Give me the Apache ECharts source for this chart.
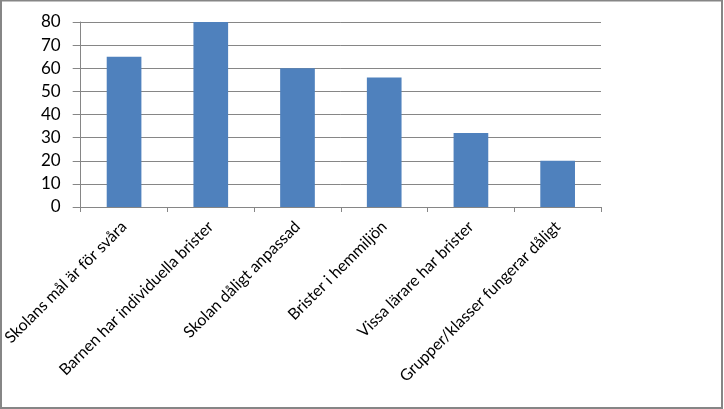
<!DOCTYPE html>
<html>
<head>
<meta charset="utf-8">
<script src="https://cdn.jsdelivr.net/npm/echarts@6/dist/echarts.min.js"></script>
<style>
html,body{margin:0;padding:0;background:#fff;}
#c{width:724px;height:409px;}
</style>
</head>
<body>
<div id="c"></div>
<script>
var categories = [
  "Skolans mål är för svåra",
  "Barnen har individuella brister",
  "Skolan dåligt anpassad",
  "Brister i hemmiljön",
  "Vissa lärare har brister",
  "Grupper/klasser fungerar dåligt"
];
var values = [65, 80, 60, 56, 32, 20];
var yTicks = { min: 0, max: 80, interval: 10 };

var gray = '#868686';
var font = 'Lato, "Open Sans", sans-serif';
var chart = echarts.init(document.getElementById('c'), null, { renderer: 'canvas' });
chart.setOption({
  animation: false,
  backgroundColor: '#ffffff',
  grid: { left: 79, right: 123, top: 22, bottom: 202, containLabel: false },
  xAxis: {
    type: 'category',
    data: categories,
    axisLine: { show: true, lineStyle: { color: gray, width: 1 } },
    axisTick: { show: true, length: 5, lineStyle: { color: gray } },
    axisLabel: { rotate: 45, margin: 17, color: '#000', fontFamily: font, fontSize: 16, interval: 0 },
    splitLine: { show: false }
  },
  yAxis: {
    type: 'value',
    min: yTicks.min, max: yTicks.max, interval: yTicks.interval,
    axisLine: { show: true, lineStyle: { color: gray, width: 1 } },
    axisTick: { show: true, length: 8, lineStyle: { color: gray } },
    axisLabel: { margin: 20, color: '#000', fontFamily: font, fontSize: 17 },
    splitLine: { show: true, lineStyle: { color: gray, width: 1 } }
  },
  series: [{
    type: 'bar',
    data: values,
    barCategoryGap: '60%',
    itemStyle: { color: '#4F81BD' }
  }],
  graphic: [{
    type: 'rect',
    shape: { x: 1, y: 0.5, width: 721, height: 407.5 },
    style: { fill: 'none', stroke: gray, lineWidth: 2 },
    silent: true
  }]
});
</script>
</body>
</html>
